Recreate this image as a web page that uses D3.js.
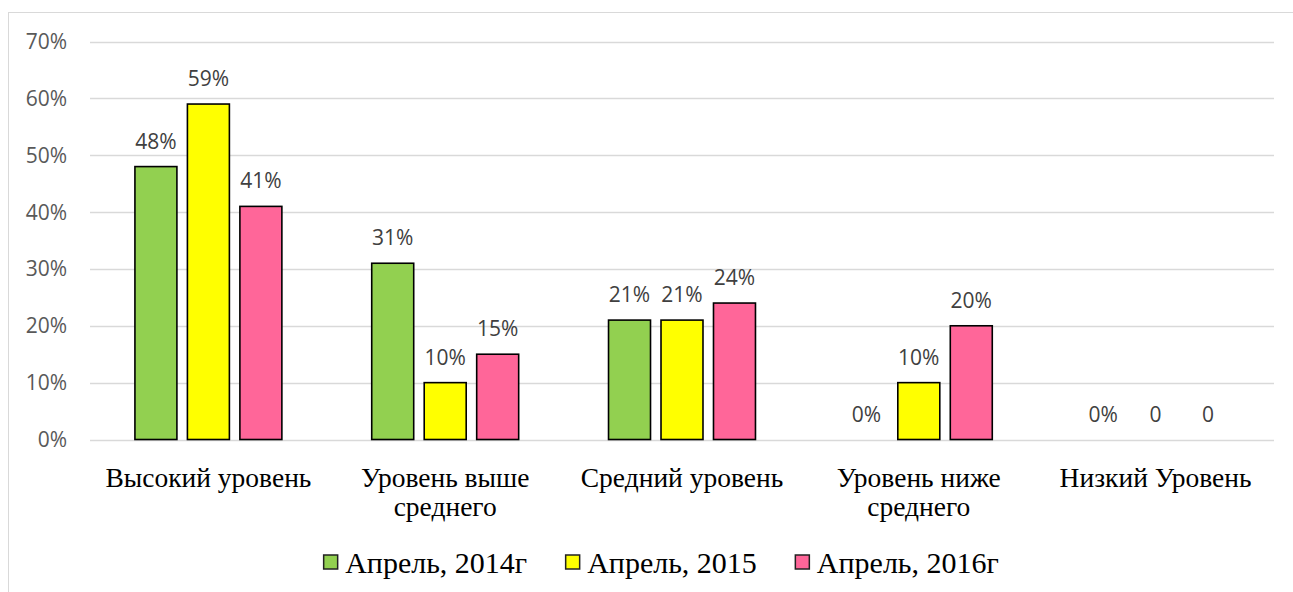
<!DOCTYPE html>
<html>
<head>
<meta charset="utf-8">
<script src="https://cdn.jsdelivr.net/npm/d3@7"></script>
<style>
  body { margin: 0; background: #fff; }
  svg { display: block; }
</style>
</head>
<body>
<div id="chart"></div>
<script>
const categories = [
    ["Высокий уровень"],
    ["Уровень выше", "среднего"],
    ["Средний уровень"],
    ["Уровень ниже", "среднего"],
    ["Низкий Уровень"]
];
const seriesNames = ["Апрель, 2014г", "Апрель, 2015", "Апрель, 2016г"];
const seriesColors = ["#92D050", "#FFFF00", "#FF6699"];
// null = empty cell, labelled "0" in the original
const april2014 = [48, 31, 21, 0, 0];
const april2015 = [59, 10, 21, 10, null];
const april2016 = [41, 15, 24, 20, null];
const yTicks = [0, 10, 20, 30, 40, 50, 60, 70];

const allSeries = [april2014, april2015, april2016];

const width = 1293, height = 592;
const plot = { left: 90, right: 1274, top: 41.5, bottom: 439.5 };

const svg = d3.select("#chart").append("svg")
    .attr("width", width)
    .attr("height", height);

// chart frame
svg.append("rect")
    .attr("x", 8.5).attr("y", 12.5)
    .attr("width", 1400).attr("height", 700)
    .attr("fill", "none")
    .attr("stroke", "#d9d9d9");

const x0 = d3.scaleBand()
    .domain(d3.range(categories.length))
    .range([plot.left, plot.right])
    .padding(0);

const y = d3.scaleLinear()
    .domain([0, 70])
    .range([plot.bottom, plot.top]);

// gap width ~214%, overlap -25%
const barW = x0.bandwidth() / (3.5 + 2.14);
const barStep = barW * 1.25;

// gridlines
svg.append("g")
    .selectAll("line")
    .data(yTicks)
    .enter().append("line")
    .attr("x1", plot.left).attr("x2", plot.right)
    .attr("y1", d => Math.round(y(d)) + 0.5)
    .attr("y2", d => Math.round(y(d)) + 0.5)
    .attr("stroke", "#d9d9d9")
    .attr("stroke-width", 1.3);

// y tick labels
svg.append("g")
    .selectAll("text")
    .data(yTicks)
    .enter().append("text")
    .attr("x", 67)
    .attr("y", d => y(d))
    .attr("dy", "0.36em")
    .attr("text-anchor", "end")
    .attr("font-family", "'Open Sans', sans-serif")
    .attr("font-size", 21)
    .attr("fill", "#595959")
    .text(d => d + "%");

// bars + labels
allSeries.forEach((values, si) => {
    const g = svg.append("g");
    const bx = i => x0(i) + x0.bandwidth() / 2 + (si - 1) * barStep - barW / 2;

    g.selectAll("rect")
        .data(values.map((v, i) => ({ v, i })).filter(d => d.v))
        .enter().append("rect")
        .attr("x", d => bx(d.i))
        .attr("y", d => y(d.v))
        .attr("width", barW)
        .attr("height", d => y(0) - y(d.v))
        .attr("fill", seriesColors[si])
        .attr("stroke", "#000")
        .attr("stroke-width", 1.6);

    g.selectAll("text")
        .data(values.map((v, i) => ({ v, i })))
        .enter().append("text")
        .attr("x", d => bx(d.i) + barW / 2)
        .attr("y", d => y(d.v || 0) - 18)
        .attr("text-anchor", "middle")
        .attr("font-family", "'Open Sans', sans-serif")
        .attr("font-size", 21)
        .attr("fill", "#404040")
        .text(d => d.v === null ? "0" : d.v + "%");
});

// category labels
const catG = svg.append("g");
categories.forEach((lines, i) => {
    const t = catG.append("text")
        .attr("text-anchor", "middle")
        .attr("font-family", "'Liberation Serif', 'Times New Roman', serif")
        .attr("font-size", 27.5)
        .attr("fill", "#000");
    lines.forEach((line, li) => {
        t.append("tspan")
            .attr("x", x0(i) + x0.bandwidth() / 2)
            .attr("y", 487 + li * 29)
            .text(line);
    });
});

// legend
const legend = svg.append("g");
const items = [];
seriesNames.forEach((name, i) => {
    const item = legend.append("g");
    item.append("rect")
        .attr("x", 0.5).attr("y", -7.5)
        .attr("width", 14).attr("height", 14)
        .attr("fill", seriesColors[i])
        .attr("stroke", "#222")
        .attr("stroke-width", 1.5);
    const txt = item.append("text")
        .attr("x", 22)
        .attr("y", 10.5)
        .attr("font-family", "'Liberation Serif', 'Times New Roman', serif")
        .attr("font-size", 30)
        .attr("fill", "#000")
        .text(name);
    const w = 22 + txt.node().getComputedTextLength();
    items.push({ item, w });
});
const legendGap = 38;
const totalW = d3.sum(items, d => d.w) + legendGap * (items.length - 1);
let lx = 661 - totalW / 2;
items.forEach(d => {
    d.item.attr("transform", `translate(${lx},562.5)`);
    lx += d.w + legendGap;
});
</script>
</body>
</html>
